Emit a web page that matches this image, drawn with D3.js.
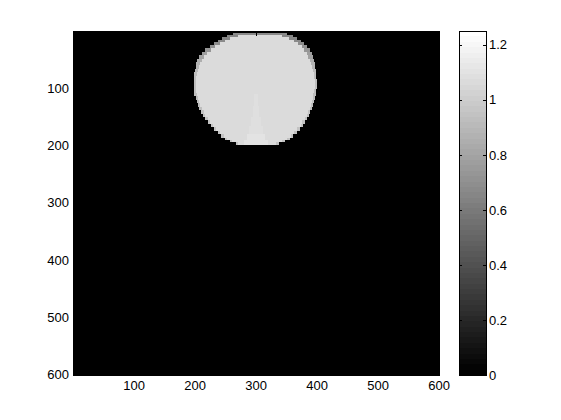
<!DOCTYPE html>
<html>
<head>
<meta charset="utf-8">
<script src="https://cdn.jsdelivr.net/npm/d3@7"></script>
<style>
  body { margin: 0; background: #fff; }
  text { font-family: "Liberation Sans", Arial, sans-serif; font-size: 13px; fill: #000; }
</style>
</head>
<body>
<svg id="chart" width="561" height="420"></svg>
<script>
// image is 600 x 600, grey colormap from 0 to cmax
var nRows = 600, nCols = 600
var cmax = 1.25
var xTicks = [100, 200, 300, 400, 500, 600]
var yTicks = [100, 200, 300, 400, 500, 600]
var cbTicks = [0, 0.2, 0.4, 0.6, 0.8, 1, 1.2]

// the disk: band start row, first and last column
var bandRows  = [3, 7, 11, 15, 20, 25, 30, 36, 42, 48, 54, 60, 66, 72, 78, 84, 90, 96,
                 102, 108, 114, 120, 126, 132, 138, 144, 150, 156, 162, 168, 174, 180, 186, 190, 194]
var bandLeft  = [264, 254, 246, 239, 232, 225, 218, 212, 208, 205, 203, 202, 201, 200, 199, 199, 199, 199,
                 199, 200, 202, 204, 206, 208, 211, 214, 218, 222, 227, 232, 238, 244, 250, 258, 268]
var bandRight = [350, 360, 367, 373, 379, 384, 388, 391, 393, 395, 396, 397, 398, 399, 399, 400, 400, 400,
                 399, 398, 397, 395, 394, 392, 389, 387, 384, 380, 377, 372, 367, 361, 355, 347, 337]
var bandEnd = 199
// darker edge at both ends of each band: width in columns and value
var rimWidth  = [50, 16, 12, 10, 9, 8, 8, 7, 7, 6, 5, 5, 4, 3, 3, 3, 3, 3,
                 3, 3, 3, 3, 3, 3, 3, 3, 3, 3, 3, 3, 3, 3, 3, 3, 3]
var rimValue  = [0.68, 0.66, 0.66, 0.68, 0.7, 0.72, 0.74, 0.78, 0.8, 0.84, 0.86, 0.88, 0.9, 0.92, 0.92, 0.92, 0.92, 0.92,
                 0.92, 0.92, 0.92, 0.92, 0.92, 0.92, 0.95, 0.95, 0.95, 0.95, 0.95, 0.95, 0.95, 0.95, 0.95, 0.95, 0.95]
var fillValue = 1.06

// faint brighter fan near the bottom centre of the disk
var streakRows  = [110, 130, 150, 165, 180, 190]
var streakLeft  = [298, 296, 293, 290, 286, 282]
var streakRight = [303, 305, 308, 311, 315, 319]
var streakValue = [1.08, 1.08, 1.08, 1.08, 1.1, 1.1]

var svg = d3.select("#chart")
var axL = 73, axT = 31, axR = 439, axB = 375
var cbL = 459, cbR = 486

var xs = d3.scaleLinear().domain([0.5, nCols + 0.5]).range([axL, axR])
var ys = d3.scaleLinear().domain([0.5, nRows + 0.5]).range([axT, axB])
var cs = d3.scaleLinear().domain([0, cmax]).range([axB, axT])

// matlab gray(64)
var greys = d3.range(64).map(function (i) { var g = Math.round(i / 63 * 255); return d3.rgb(g, g, g).toString() })
var color = d3.scaleQuantize().domain([0, cmax]).range(greys)

var img = svg.append("g").attr("shape-rendering", "crispEdges")

// background of the image (value 0)
img.append("rect")
  .attr("x", xs(0.5)).attr("y", ys(0.5))
  .attr("width", xs(nCols + 0.5) - xs(0.5)).attr("height", ys(nRows + 0.5) - ys(0.5))
  .attr("fill", color(0))

function cellRect(c0, c1, r0, r1, v) {
  var x0 = Math.round(xs(c0 - 0.5)), x1 = Math.round(xs(c1 + 0.5))
  var y0 = Math.round(ys(r0 + 0.5)), y1 = Math.round(ys(r1 + 0.5))
  img.append("rect")
    .attr("x", x0).attr("y", y0)
    .attr("width", Math.max(0, x1 - x0)).attr("height", Math.max(0, y1 - y0))
    .attr("fill", color(v))
}

bandRows.forEach(function (r, i) {
  var r1 = i < bandRows.length - 1 ? bandRows[i + 1] : bandEnd
  var l = bandLeft[i], rr = bandRight[i], w = rimWidth[i]
  cellRect(l, rr, r, r1, fillValue)
  cellRect(l, Math.min(rr, l + w), r, r1, rimValue[i])
  cellRect(Math.max(l, rr - w), rr, r, r1, rimValue[i])
})

streakRows.forEach(function (r, i) {
  var r1 = i < streakRows.length - 1 ? streakRows[i + 1] : bandEnd
  cellRect(streakLeft[i], streakRight[i], r, r1, streakValue[i])
})

// axes, ticks pointing inward
svg.append("g").attr("transform", "translate(0," + axB + ")")
  .call(d3.axisBottom(xs).tickValues(xTicks).tickSizeInner(-5).tickSizeOuter(0).tickPadding(6))
svg.append("g").attr("transform", "translate(0," + axT + ")")
  .call(d3.axisTop(xs).tickValues(xTicks).tickSizeInner(-5).tickSizeOuter(0).tickFormat(""))
svg.append("g").attr("transform", "translate(" + axL + ",0)")
  .call(d3.axisLeft(ys).tickValues(yTicks).tickSizeInner(-5).tickSizeOuter(0).tickPadding(4))
svg.append("g").attr("transform", "translate(" + axR + ",0)")
  .call(d3.axisRight(ys).tickValues(yTicks).tickSizeInner(-5).tickSizeOuter(0).tickFormat(""))

svg.append("rect")
  .attr("x", axL).attr("y", axT).attr("width", axR - axL).attr("height", axB - axT)
  .attr("fill", "none").attr("stroke", "#000").attr("shape-rendering", "crispEdges")

// colorbar
var cb = svg.append("g").attr("shape-rendering", "crispEdges")
cb.selectAll("rect")
  .data(greys)
  .enter()
  .append("rect")
  .attr("x", cbL)
  .attr("width", cbR - cbL)
  .attr("y", function (d, i) { return Math.round(cs((i + 1) * cmax / 64)) })
  .attr("height", function (d, i) { return Math.round(cs(i * cmax / 64)) - Math.round(cs((i + 1) * cmax / 64)) })
  .attr("fill", function (d) { return d })

svg.append("g").attr("transform", "translate(" + cbR + ",0)")
  .call(d3.axisRight(cs).tickValues(cbTicks).tickFormat(d3.format("~g")).tickSizeInner(-3).tickSizeOuter(0).tickPadding(3))
svg.append("g").attr("transform", "translate(" + cbL + ",0)")
  .call(d3.axisLeft(cs).tickValues(cbTicks).tickSizeInner(-3).tickSizeOuter(0).tickFormat(""))

svg.append("rect")
  .attr("x", cbL).attr("y", axT).attr("width", cbR - cbL).attr("height", axB - axT)
  .attr("fill", "none").attr("stroke", "#000").attr("shape-rendering", "crispEdges")

svg.selectAll(".domain").remove()
svg.selectAll(".tick line").attr("stroke", "#000").attr("shape-rendering", "crispEdges")
svg.selectAll(".tick text").attr("font-family", null).attr("font-size", null)
</script>
</body>
</html>
